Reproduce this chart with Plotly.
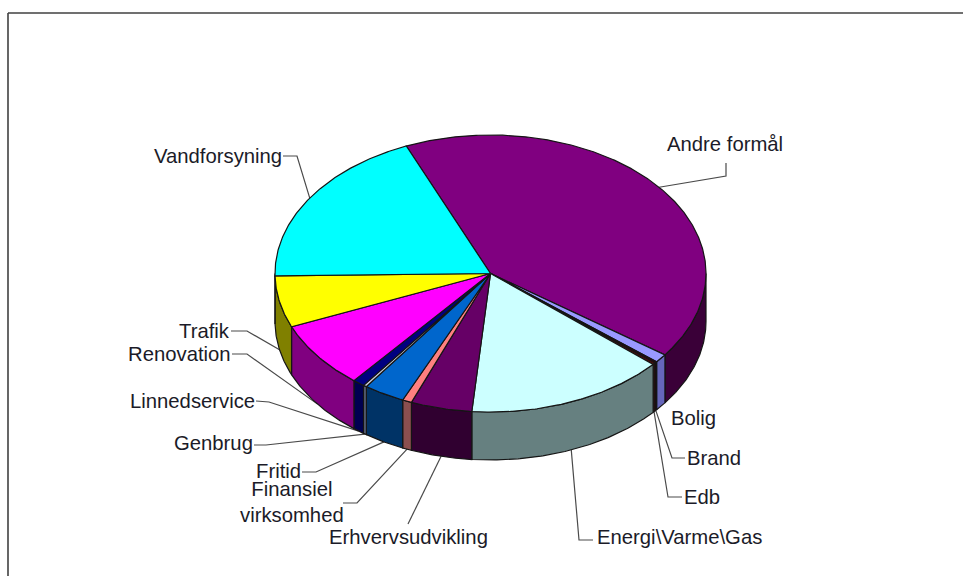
import numpy as np
import plotly.graph_objects as go

# Data (percent shares, clockwise from the top-left edge of "Andre formål")
categories = ["Andre formål", "Bolig", "Brand", "Edb", "Energi\\Varme\\Gas", "Erhvervsudvikling",
              "Finansiel<br>virksomhed", "Fritid", "Genbrug", "Linnedservice", "Renovation", "Trafik",
              "Vandforsyning"]
values = [41.4, 1.0, 0.2, 0.2, 15.0, 4.6, 0.7, 3.1, 0.25, 0.9, 7.8, 6.0, 18.9]

# Styles
top_colors = ["#800080", "#9999FF", "#300010", "#700000", "#CCFFFF", "#660066", "#FF8080",
              "#0066CC", "#C8C8D8", "#000080", "#FF00FF", "#FFFF00", "#00FFFF"]
wall_colors = ["#3A0038", "#6666BB", "#200010", "#400000", "#668080", "#300030", "#8B4F4F",
               "#003366", "#667088", "#000050", "#800080", "#808000", "#008080"]
# label: (anchor x, centre y, xanchor); leader waypoints from label towards the slice
label_pos = [(665, 144, "left"), (669, 418, "left"), (685, 458, "left"), (682, 497, "left"),
             (679.5, 537, "center"), (408.5, 537, "center"), (292, 502, "center"), (303, 471, "right"),
             (255, 443, "right"), (257, 401, "right"), (233, 354, "right"), (232, 331, "right"),
             (284, 156, "right")]
leader_via = [[(726, 163), (726, 176)], None, [(685, 458), (672, 458)], [(682, 497), (668, 497)],
              [(593, 540), (579, 540)], [(408, 524)], [(343, 503), (357, 503)], [(302, 472), (316, 472)],
              [(254, 445), (266, 445)], [(256, 401), (269, 402)], [(232, 354), (247, 354)],
              [(231, 331), (247, 331)], [(283, 156), (297, 156)]]

CX, CY, RX, RY, DEPTH = 490.5, 273.5, 215.5, 138.5, 48
START = -23.0
INK = "#151515"

def rim(t, dz=0.0):
    r = np.radians(t)
    return CX + RX * np.sin(r), CY - RY * np.cos(r) + dz

shares = np.array(values, dtype=float)
angles = START + np.concatenate([[0], np.cumsum(shares / shares.sum() * 360)])

fig = go.Figure()

def poly(xs, ys, fill):
    fig.add_trace(go.Scatter(x=xs, y=ys, mode="lines", fill="toself", fillcolor=fill,
                             line=dict(color=INK, width=1.2), hoverinfo="skip", showlegend=False))

# Leaders sit under the pie
for i, via in enumerate(leader_via):
    if via is None:
        continue
    mid = (angles[i] + angles[i + 1]) / 2
    lower = np.cos(np.radians(mid)) < 0
    ex, ey = rim(mid, DEPTH if lower else 0)
    pts = via + [(ex, ey)]
    fig.add_trace(go.Scatter(x=[p[0] for p in pts], y=[p[1] for p in pts], mode="lines",
                             line=dict(color="#4a4a4a", width=1.2), hoverinfo="skip", showlegend=False))

# Visible outer walls
for i in range(len(values)):
    a, b = max(angles[i], 90), min(angles[i + 1], 270)
    if b <= a:
        continue
    ts = np.linspace(a, b, max(int(b - a) * 2, 2))
    x0, y0 = rim(ts)
    x1, y1 = rim(ts[::-1], DEPTH)
    poly(np.r_[x0, x1, x0[0]], np.r_[y0, y1, y0[0]], wall_colors[i])

# Top face
for i in range(len(values)):
    ts = np.linspace(angles[i], angles[i + 1], max(int(angles[i + 1] - angles[i]) * 2, 2))
    x0, y0 = rim(ts)
    poly(np.r_[CX, x0, CX], np.r_[CY, y0, CY], top_colors[i])

for name, (x, y, anchor) in zip(categories, label_pos):
    fig.add_annotation(x=x, y=y, text=name, showarrow=False, xanchor=anchor, yanchor="middle",
                       align="center", font=dict(family="Liberation Sans", size=20.3, color="#1b1b28"))

fig.add_shape(type="line", x0=8, y0=13, x1=963, y1=13, line=dict(color="#404040", width=1.6))
fig.add_shape(type="line", x0=8, y0=13, x1=8, y1=576, line=dict(color="#404040", width=1.6))

fig.update_layout(width=963, height=576, margin=dict(l=0, r=0, t=0, b=0), paper_bgcolor="white",
                  plot_bgcolor="white", showlegend=False,
                  xaxis=dict(range=[0, 963], visible=False, fixedrange=True),
                  yaxis=dict(range=[576, 0], visible=False, fixedrange=True))
fig.write_html("out.html", config={"displayModeBar": False},
               post_script="document.body.style.margin='0';document.documentElement.style.overflow='hidden';")
